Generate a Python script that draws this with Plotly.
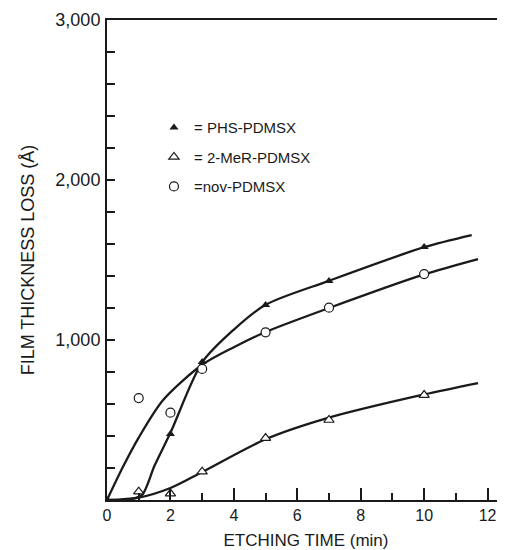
import plotly.graph_objects as go

# Measured data points
phs_x = [0, 2, 3, 5, 7, 10]
phs_y = [0, 412, 862, 1219, 1369, 1581]
mer_x = [1, 2, 3, 5, 7, 10]
mer_y = [52, 40, 177, 387, 500, 656]
nov_x = [1, 2, 3, 5, 7, 10]
nov_y = [637, 546, 819, 1048, 1202, 1412]

# Hand-drawn fitted curves
phs_cx = [0, 0.7, 1.1, 1.5, 2, 3, 4, 5, 7, 10, 11.5]
phs_cy = [0, 4, 30, 215, 420, 860, 1065, 1220, 1370, 1580, 1656]
mer_cx = [0, 1, 2, 3, 5, 7, 10, 11.7]
mer_cy = [0, 15, 75, 175, 380, 515, 660, 731]
nov_cx = [0, 0.5, 1, 1.77, 3, 4, 5, 7, 10, 11.7]
nov_cy = [0, 206, 390, 625, 845, 955, 1050, 1200, 1410, 1506]

names = ["= PHS-PDMSX", "= 2-MeR-PDMSX", "=nov-PDMSX"]

y_ticks = list(range(0, 3001, 200))
y_text = ["1,000" if v == 1000 else "2,000" if v == 2000 else "3,000" if v == 3000 else "" for v in y_ticks]
x_ticks = [0, 2, 4, 6, 8, 10, 12]

FONT = "Liberation Sans, Arial, Helvetica, sans-serif"
INK = "#1a1a1a"

fig = go.Figure()
for cx, cy in [(phs_cx, phs_cy), (mer_cx, mer_cy), (nov_cx, nov_cy)]:
    fig.add_trace(go.Scatter(x=cx, y=cy, mode="lines",
                             line=dict(color=INK, width=2.3, shape="spline", smoothing=0.8),
                             showlegend=False, hoverinfo="skip"))

fig.add_trace(go.Scatter(x=phs_x, y=phs_y, mode="markers", name=names[0], legendgroup="a",
                         marker=dict(symbol="triangle-up", size=8, color=INK)))
fig.add_trace(go.Scatter(x=mer_x, y=mer_y, mode="markers", name=names[1], legendgroup="b",
                         marker=dict(symbol="triangle-up", size=9, color="white", line=dict(color=INK, width=1.2))))
fig.add_trace(go.Scatter(x=nov_x, y=nov_y, mode="markers", name=names[2], legendgroup="c",
                         marker=dict(symbol="circle", size=9, color="white", line=dict(color=INK, width=1.2))))

fig.update_layout(
    width=497, height=542,
    margin=dict(l=99, r=0, t=12, b=50, autoexpand=False),
    paper_bgcolor="white", plot_bgcolor="white",
    font=dict(family=FONT, color=INK),
    legend=dict(x=0.118, y=0.81, xanchor="left", yanchor="top", bgcolor="rgba(0,0,0,0)",
                font=dict(size=15, family=FONT, color=INK), traceorder="grouped", tracegroupgap=7,
                itemwidth=30),
    xaxis=dict(range=[0, 12.55], showline=True, linecolor=INK, linewidth=2, mirror=True, automargin=False,
               showgrid=False, zeroline=False, ticks="inside", ticklen=12, tickwidth=1.5, tickcolor=INK,
               tickvals=x_ticks, ticktext=[str(v) for v in x_ticks], tickfont=dict(size=16),
               ticklabelstandoff=0,
               minor=dict(dtick=1, tick0=0, ticks="inside", ticklen=7, tickwidth=1.5, tickcolor=INK),
               title=dict(text="ETCHING TIME (min)", font=dict(size=17), standoff=14)),
    yaxis=dict(range=[0, 3000], showline=True, linecolor=INK, linewidth=2, mirror=False, automargin=False,
               showgrid=False, zeroline=False, ticks="inside", ticklen=8, tickwidth=1.5, tickcolor=INK,
               tickvals=y_ticks, ticktext=y_text, tickfont=dict(size=18), ticklabelstandoff=1,
               title=dict(text="FILM THICKNESS LOSS (Å)", font=dict(size=18), standoff=16)),
)

fig.write_html("out.html")
